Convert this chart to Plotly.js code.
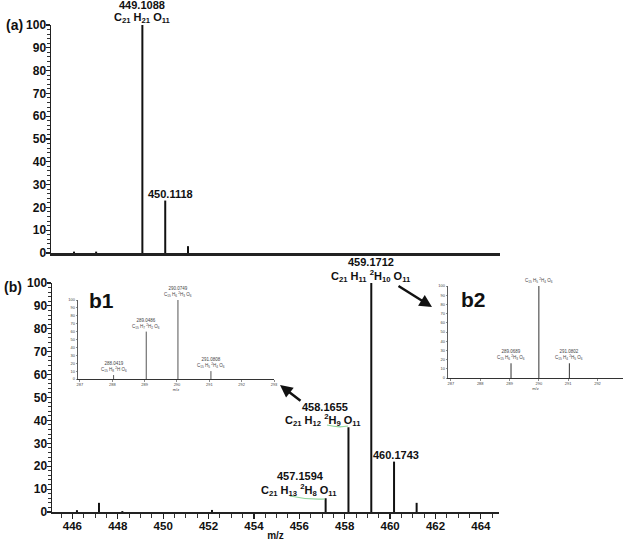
<!DOCTYPE html>
<html>
<head>
<meta charset="utf-8">
<script src="https://cdn.plot.ly/plotly-3.0.1.min.js"></script>
<style>
  html, body { margin: 0; padding: 0; background: #fff; }
  #chart { width: 625px; height: 542px; }
</style>
</head>
<body>
<div id="chart"></div>
<script>
// panel (a): unlabelled compound
var mzA = [446.11, 447.08, 449.1088, 450.1118, 451.11];
var intA = [0.6, 0.6, 100, 23, 3];

// panel (b): deuterated compound
var mzB = [446.2, 447.17, 448.2, 452.15, 457.1594, 458.1655, 459.1712, 460.1743, 461.17];
var intB = [0.8, 4, 0.4, 0.9, 6, 37, 100, 22, 4];

// inset b1
var mzB1 = [288.04, 289.05, 290.03, 291.05];
var intB1 = [5, 60, 100, 10];
var labB1 = ['288.0419<br>C<sub>15</sub> H<sub>8</sub> <sup>2</sup>H O<sub>6</sub>',
             '289.0486<br>C<sub>15</sub> H<sub>7</sub> <sup>2</sup>H<sub>2</sub> O<sub>6</sub>',
             '290.0749<br>C<sub>15</sub> H<sub>6</sub> <sup>2</sup>H<sub>3</sub> O<sub>6</sub>',
             '291.0808<br>C<sub>15</sub> H<sub>5</sub> <sup>2</sup>H<sub>4</sub> O<sub>6</sub>'];

// inset b2
var mzB2 = [289.05, 290.0, 291.04];
var intB2 = [16, 100, 16];
var labB2 = ['289.0689<br>C<sub>15</sub> H<sub>6</sub> <sup>2</sup>H<sub>3</sub> O<sub>6</sub>',
             'C<sub>15</sub> H<sub>5</sub> <sup>2</sup>H<sub>4</sub> O<sub>6</sub>',
             '291.0802<br>C<sub>15</sub> H<sub>4</sub> <sup>2</sup>H<sub>5</sub> O<sub>6</sub>'];

// main peak labels: index into the peak arrays, m/z text, formula text
var labIdxA = [2, 3];
var numA = ['449.1088', '450.1118'];
var formA = ['C<sub>21</sub> H<sub>21</sub> O<sub>11</sub>', ''];

var labIdxB = [4, 5, 6, 7];
var numB = ['457.1594', '458.1655', '459.1712', '460.1743'];
var formB = ['C<sub>21</sub> H<sub>13</sub> <sup>2</sup>H<sub>8</sub> O<sub>11</sub>',
             'C<sub>21</sub> H<sub>12</sub> <sup>2</sup>H<sub>9</sub> O<sub>11</sub>',
             'C<sub>21</sub> H<sub>11</sub> <sup>2</sup>H<sub>10</sub> O<sub>11</sub>',
             ''];

var FONT = 'Liberation Sans, Arial, sans-serif';

function sticks(mz, ints, xa, ya, color, w) {
  var x = [], y = [];
  for (var i = 0; i < mz.length; i++) {
    x.push(mz[i], mz[i], null);
    y.push(0, ints[i], null);
  }
  return { x: x, y: y, xaxis: xa, yaxis: ya, type: 'scatter', mode: 'lines',
           line: { color: color, width: w }, hoverinfo: 'skip' };
}

function px(x) { return x / 625; }
function py(y) { return 1 - y / 542; }

var data = [
  sticks(mzA, intA, 'x', 'y', '#111', 2),
  sticks(mzB, intB, 'x2', 'y2', '#111', 2),
  sticks(mzB1, intB1, 'x3', 'y3', '#555', 1),
  sticks(mzB2, intB2, 'x4', 'y4', '#333', 1)
];

var yTickF = { family: FONT, size: 12, color: '#111', weight: 'bold' };
var xTickF = { family: FONT, size: 11.5, color: '#111', weight: 'bold' };
var labF = { family: FONT, size: 11, color: '#111', weight: 'bold' };
var tinyF = { family: FONT, size: 4, color: '#444' };

function mainY(dom, anchor) {
  return { domain: dom, anchor: anchor, range: [0, 100], dtick: 10, tick0: 0, ticks: 'outside', ticklen: 4,
           tickwidth: 1.2, tickcolor: '#222', showline: true, linecolor: '#222', linewidth: 1.5,
           showgrid: false, zeroline: false, tickfont: yTickF, ticklabelstandoff: -3,
           minor: { dtick: 2, ticks: 'outside', ticklen: 2.5, tickcolor: '#333', tickwidth: 1 } };
}
function insetY(dom, anchor) {
  return { domain: dom, anchor: anchor, range: [0, 100], dtick: 10, ticks: 'outside', ticklen: 1.5,
           tickwidth: 0.6, showline: true, linecolor: '#333', linewidth: 0.8, showgrid: false,
           zeroline: false, tickfont: tinyF, ticklabelstandoff: 0 };
}

function label(txt, xa, ya, x, y, dx, dy) {
  return { text: txt, xref: xa, yref: ya, x: x, y: y, xanchor: 'center', yanchor: 'middle',
           xshift: dx, yshift: dy, showarrow: false, font: labF };
}

var annotations = [
  { text: '<b>(a)</b>', xref: 'paper', yref: 'paper', x: px(14), y: py(25), xanchor: 'center',
    yanchor: 'middle', showarrow: false, font: { family: FONT, size: 14, color: '#111' } },
  { text: '<b>(b)</b>', xref: 'paper', yref: 'paper', x: px(13), y: py(287), xanchor: 'center',
    yanchor: 'middle', showarrow: false, font: { family: FONT, size: 14, color: '#111' } },
  { text: '<b>b1</b>', xref: 'paper', yref: 'paper', x: px(101), y: py(300), xanchor: 'center',
    yanchor: 'middle', showarrow: false, font: { family: FONT, size: 21, color: '#111' } },
  { text: '<b>b2</b>', xref: 'paper', yref: 'paper', x: px(473), y: py(299), xanchor: 'center',
    yanchor: 'middle', showarrow: false, font: { family: FONT, size: 21, color: '#111' } },
  // arrows to insets
  { text: '', xref: 'paper', yref: 'paper', x: px(432), y: py(307), ax: -35, ay: -22,
    showarrow: true, arrowhead: 2, arrowsize: 1, arrowwidth: 2.5, arrowcolor: '#111' },
  { text: '', xref: 'paper', yref: 'paper', x: px(280), y: py(385), ax: 22, ay: 17,
    showarrow: true, arrowhead: 2, arrowsize: 1, arrowwidth: 2.5, arrowcolor: '#111' }
];

// label offsets (px) for main peaks: [number dx, number dy, formula dx, formula dy]
var offA = [[0, 20, 0, 7], [5, 7, 0, 0]];
var offB = [[-25, 22, -27, 8], [-23, 20, -25, 7], [0, 21, 0, 7], [2, 7, 0, 0]];

labIdxA.forEach(function (k, i) {
  annotations.push(label(numA[i], 'x', 'y', mzA[k], intA[k], offA[i][0], offA[i][1]));
  if (formA[i]) annotations.push(label(formA[i], 'x', 'y', mzA[k], intA[k], offA[i][2], offA[i][3]));
});
labIdxB.forEach(function (k, i) {
  annotations.push(label(numB[i], 'x2', 'y2', mzB[k], intB[k], offB[i][0], offB[i][1]));
  if (formB[i]) annotations.push(label(formB[i], 'x2', 'y2', mzB[k], intB[k], offB[i][2], offB[i][3]));
});

for (var i = 0; i < mzB1.length; i++) {
  annotations.push({ text: labB1[i], xref: 'x3', yref: 'y3', x: mzB1[i], y: intB1[i],
    yanchor: 'bottom', showarrow: false, font: { family: FONT, size: 4.5, color: '#444' } });
}
for (var j = 0; j < mzB2.length; j++) {
  annotations.push({ text: labB2[j], xref: 'x4', yref: 'y4', x: mzB2[j], y: intB2[j],
    yanchor: 'bottom', showarrow: false, font: { family: FONT, size: 4.5, color: '#444' } });
}

var layout = {
  width: 625, height: 542,
  margin: { l: 0, r: 0, t: 0, b: 0 },
  paper_bgcolor: '#fff', plot_bgcolor: 'rgba(0,0,0,0)',
  showlegend: false,
  xaxis: { domain: [px(51), px(500)], anchor: 'y', range: [445.1, 464.8], showline: true,
           linecolor: '#222', linewidth: 3, showticklabels: false, ticks: '', showgrid: false,
           zeroline: false },
  yaxis: mainY([py(253), py(25)], 'x'),
  xaxis2: { domain: [px(52), px(499)], anchor: 'y2', range: [445.1, 464.8], dtick: 2, tick0: 446,
            ticks: 'outside', ticklen: 5, tickwidth: 1.2, tickcolor: '#222', showline: true,
            linecolor: '#222', linewidth: 2, showgrid: false, zeroline: false, tickfont: xTickF,
            ticklabelstandoff: -3,
            minor: { dtick: 0.5, ticks: 'outside', ticklen: 4, tickcolor: '#333', tickwidth: 1 },
            title: { text: 'm/z', font: { family: FONT, size: 10, color: '#111', weight: 'bold' }, standoff: 1 } },
  yaxis2: mainY([py(512), py(283)], 'x2'),
  xaxis3: { domain: [px(78), px(274)], anchor: 'y3', range: [286.94, 293.0], dtick: 1,
            ticks: 'outside', ticklen: 1.5, tickwidth: 0.6, showline: true, linecolor: '#333',
            linewidth: 1, showgrid: false, zeroline: false, tickfont: tinyF,
            title: { text: 'm/z', font: tinyF, standoff: 1 } },
  yaxis3: insetY([py(379), py(300)], 'x3'),
  xaxis4: { domain: [px(448), px(623)], anchor: 'y4', range: [286.9, 292.87], dtick: 1,
            ticks: 'outside', ticklen: 1.5, tickwidth: 0.6, showline: true, linecolor: '#333',
            linewidth: 1, showgrid: false, zeroline: false, tickfont: tinyF,
            title: { text: 'm/z', font: tinyF, standoff: 1 } },
  yaxis4: insetY([py(378), py(286)], 'x4'),
  annotations: annotations,
  shapes: [
    { type: 'path', xref: 'paper', yref: 'paper',
      path: 'M ' + px(327) + ',' + py(425) + ' Q ' + px(338) + ',' + py(428) + ' ' + px(348) + ',' + py(426),
      line: { color: '#8fd49a', width: 1.2 } },
    { type: 'path', xref: 'paper', yref: 'paper',
      path: 'M ' + px(290) + ',' + py(496) + ' Q ' + px(308) + ',' + py(500) + ' ' + px(325) + ',' + py(499),
      line: { color: '#8fd49a', width: 1.2 } }
  ]
};

Plotly.newPlot('chart', data, layout, { staticPlot: true, displayModeBar: false });
</script>
</body>
</html>
